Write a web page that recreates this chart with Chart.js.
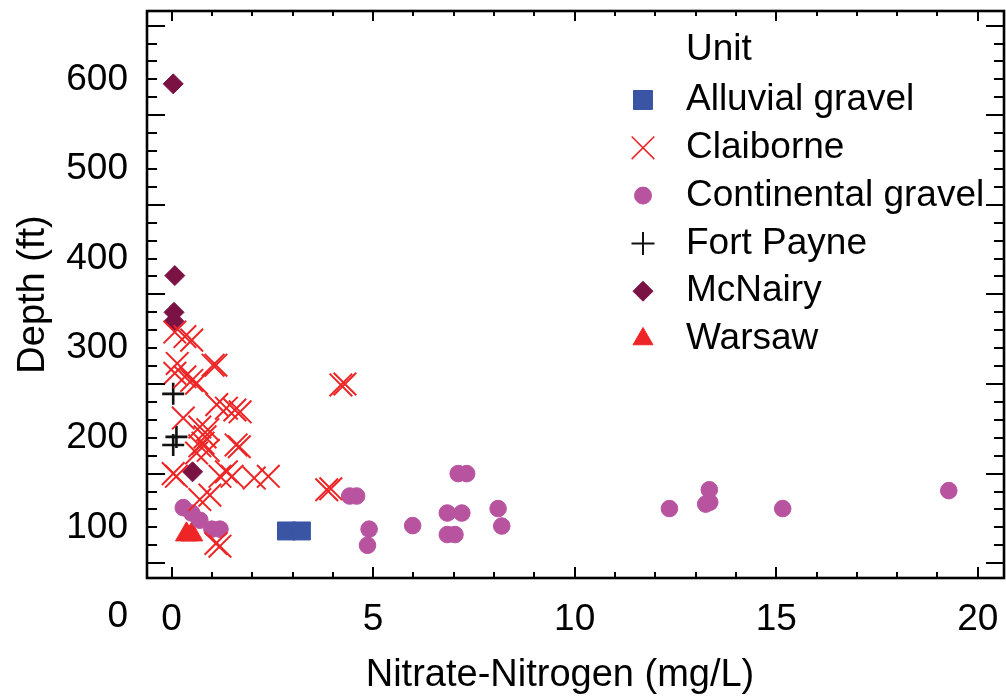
<!DOCTYPE html>
<html>
<head>
<meta charset="utf-8">
<script src="https://cdn.jsdelivr.net/npm/chart.js@4"></script>
<style>
  body { margin: 0; background: #fff; }
  canvas { display: block; }
</style>
</head>
<body>
<canvas id="nitrateChart" width="1006" height="698"></canvas>
<script>
// Values: nitrate (mg/L) vs well depth (ft)
const alluvialX = [2.85, 3.22];
const alluvialY = [96, 96];

const claiborneX = [0.08, 0.33, 0.5, 0.14, 1.03, 1.1, 0.08, 0.33, 0.5, 0.62,
  1.12, 1.36, 1.57, 1.7, 0.29, 0.7, 0.9, 0.83, 0.78, 0.7, 0.91, 1.6, 1.68, 0.62,
  0.04, 0.12, 1.2, 1.36, 1.5, 2.05, 2.4, 0.95, 0.7, 1.1, 1.2, 3.85, 3.95, 4.2, 4.3];
const claiborneY = [318, 313, 309, 283, 281, 281, 272, 268, 264, 261,
  237, 233, 231, 229, 222, 212, 209, 201, 194, 191, 186, 192, 190, 183,
  160, 157, 157, 162, 157, 155, 157, 136, 131, 82, 79, 142, 143, 259, 260];

const continentalX = [0.29, 0.5, 0.7, 1.0, 1.2, 4.42, 4.59, 4.9, 4.86, 5.98,
  7.11, 7.32, 6.84, 7.2, 6.84, 7.03, 8.1, 8.19, 12.35, 13.34, 13.25, 13.35, 15.16, 19.28];
const continentalY = [122, 116, 108, 98, 98, 135, 135, 98, 80, 102,
  160, 160, 116, 116, 92, 92, 121, 101.5, 121, 142, 126, 128, 121, 141];

const fortPayneX = [0.04, 0.12, 0.04];
const fortPayneY = [249, 201, 192];

const mcNairyX = [0.04, 0.08, 0.06, 0.06, 0.52];
const mcNairyY = [595, 381, 340, 330, 162];

const warsawX = [0.37, 0.5];
const warsawY = [92, 92];

// Axis ticks
const xTickLabels = [0, 5, 10, 15, 20];
const yTickLabels = [100, 200, 300, 400, 500, 600];
const xMinorTicks = [];
for (let v = 0; v <= 20; v++) xMinorTicks.push(v);
const yMinorTicks = [];
for (let v = 60; v <= 660; v += 20) yMinorTicks.push(v);

const FONT = '"Liberation Sans", Arial, sans-serif';

function pts(xs, ys) {
  return xs.map((x, i) => ({ x: x, y: ys[i] }));
}

// frame with inward ticks on all four sides, the stray "0" label, x title and the legend
const framePlugin = {
  id: 'frame',
  afterDraw(chart) {
    const { ctx, chartArea: a, scales: { x, y } } = chart;
    ctx.save();
    ctx.strokeStyle = '#000';
    ctx.lineWidth = 2;
    ctx.beginPath();
    xMinorTicks.forEach(v => {
      const px = Math.round(x.getPixelForValue(v));
      const major = v % 5 === 0;
      ctx.moveTo(px, a.bottom);
      ctx.lineTo(px, a.bottom - (major ? 11 : 6));
      ctx.moveTo(px, a.top);
      ctx.lineTo(px, a.top + (major ? 10 : 5));
    });
    yMinorTicks.forEach(v => {
      const py = Math.round(y.getPixelForValue(v));
      const len = (v - 60) % 100 === 0 ? 18 : 10;
      ctx.moveTo(a.left, py);
      ctx.lineTo(a.left + len, py);
      ctx.moveTo(a.right, py);
      ctx.lineTo(a.right - len, py);
    });
    ctx.stroke();
    ctx.lineWidth = 2.6;
    ctx.strokeRect(a.left, a.top, a.right - a.left, a.bottom - a.top);

    ctx.fillStyle = '#000';
    ctx.font = '37px ' + FONT;
    ctx.textAlign = 'right';
    ctx.textBaseline = 'middle';
    ctx.fillText('0', a.left - 19, y.getPixelForValue(0));

    // x axis title sits a little left of the plot centre in the original
    ctx.font = '38px ' + FONT;
    ctx.textAlign = 'center';
    ctx.fillText('Nitrate-Nitrogen (mg/L)', 560, 676);

    // legend
    const sizes = [13.4, 16, 8.5, 11.5, 10, 11.5];
    ctx.font = '37px ' + FONT;
    ctx.textAlign = 'left';
    ctx.fillText('Unit', 686, 50);
    chart.data.datasets.forEach((ds, i) => {
      const cy = 100 + i * 47.8;
      ctx.fillStyle = ds.backgroundColor;
      ctx.strokeStyle = ds.borderColor;
      ctx.lineWidth = ds.pointStyle === 'crossRot' ? 1.6 : (ds.pointStyle === 'cross' ? 2 : 1);
      Chart.helpers.drawPoint(ctx, {
        pointStyle: ds.pointStyle, radius: sizes[i], rotation: 0, borderWidth: ctx.lineWidth
      }, 643, cy);
      ctx.fillStyle = '#000';
      ctx.fillText(ds.label, 686, cy);
    });
    ctx.restore();
  }
};

new Chart(document.getElementById('nitrateChart'), {
  type: 'scatter',
  data: {
    datasets: [
      { label: 'Alluvial gravel', data: pts(alluvialX, alluvialY), pointStyle: 'rect',
        pointRadius: 12.7, backgroundColor: '#3a55a4', borderColor: '#3a55a4', borderWidth: 1 },
      { label: 'Claiborne', data: pts(claiborneX, claiborneY), pointStyle: 'crossRot',
        pointRadius: 16, backgroundColor: '#ee2526', borderColor: '#ee2526', borderWidth: 2 },
      { label: 'Continental gravel', data: pts(continentalX, continentalY), pointStyle: 'circle',
        pointRadius: 8.3, backgroundColor: '#b8539f', borderColor: '#b8539f', borderWidth: 1 },
      { label: 'Fort Payne', data: pts(fortPayneX, fortPayneY), pointStyle: 'cross',
        pointRadius: 11, backgroundColor: '#111', borderColor: '#111', borderWidth: 2.6 },
      { label: 'McNairy', data: pts(mcNairyX, mcNairyY), pointStyle: 'rectRot',
        pointRadius: 10, backgroundColor: '#7b1244', borderColor: '#7b1244', borderWidth: 1 },
      { label: 'Warsaw', data: pts(warsawX, warsawY), pointStyle: 'triangle',
        pointRadius: 12.7, backgroundColor: '#ee2526', borderColor: '#ee2526', borderWidth: 1 }
    ]
  },
  options: {
    responsive: false,
    animation: false,
    devicePixelRatio: 1,
    layout: { autoPadding: false, padding: { top: 11, right: 2, left: 0, bottom: 0 } },
    plugins: { legend: { display: false }, tooltip: { enabled: false } },
    scales: {
      x: {
        type: 'linear', min: -0.61, max: 20.65,
        afterBuildTicks: s => { s.ticks = xTickLabels.map(v => ({ value: v })); },
        afterFit: s => { s.height = 120; s.paddingLeft = 0; s.paddingRight = 0; },
        grid: { display: false, drawTicks: false },
        border: { display: false },
        ticks: { font: { family: FONT, size: 37 }, color: '#000', padding: 20, maxRotation: 0, autoSkip: false },
        title: { display: false }
      },
      y: {
        type: 'linear', min: 43.5, max: 676.3,
        afterBuildTicks: s => { s.ticks = yTickLabels.map(v => ({ value: v })); },
        afterFit: s => { s.width = 147; s.paddingTop = 0; s.paddingBottom = 0; },
        grid: { display: false, drawTicks: false },
        border: { display: false },
        ticks: { font: { family: FONT, size: 37 }, color: '#000', padding: 19, autoSkip: false },
        title: { display: true, text: 'Depth (ft)', color: '#000',
                 font: { family: FONT, size: 38 }, padding: { top: 11, bottom: 0 } }
      }
    }
  },
  plugins: [framePlugin]
});
</script>
</body>
</html>
